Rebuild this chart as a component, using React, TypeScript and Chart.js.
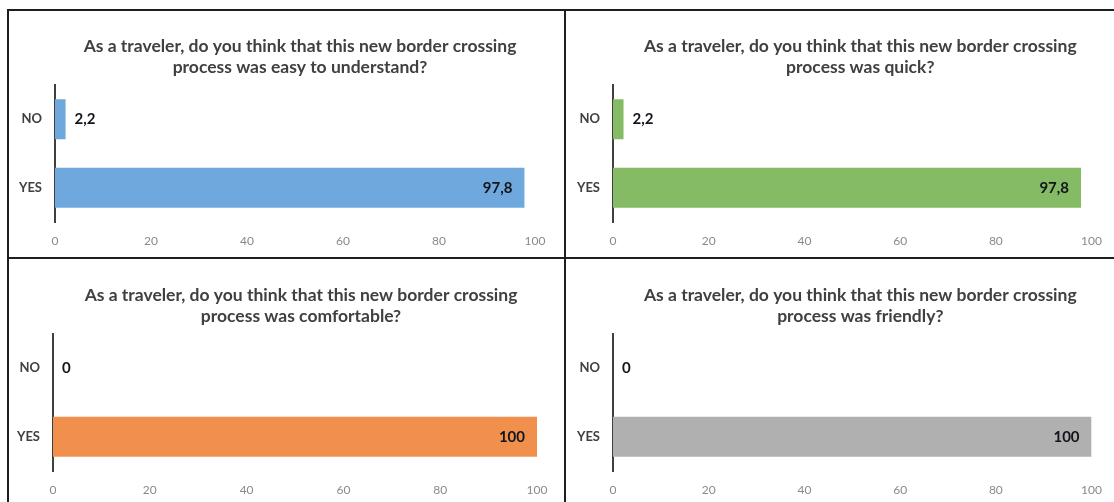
import React, { useEffect, useRef } from "react";
import { Chart, registerables } from "chart.js";

Chart.register(...registerables);

const categories = ["NO", "YES"];
const xTicks = [0, 20, 40, 60, 80, 100];

const easyTitle = ["As a traveler, do you think that this new border crossing", "process was easy to understand?"];
const quickTitle = ["As a traveler, do you think that this new border crossing", "process was quick?"];
const comfortableTitle = ["As a traveler, do you think that this new border crossing", "process was comfortable?"];
const friendlyTitle = ["As a traveler, do you think that this new border crossing", "process was friendly?"];

const easyValues = [2.2, 97.8];
const quickValues = [2.2, 97.8];
const comfortableValues = [0, 100];
const friendlyValues = [0, 100];

const FONT = "Lato, 'DejaVu Sans', sans-serif";

type PanelProps = {
  left: number;
  top: number;
  width: number;
  height: number;
  plotLeft: number;
  plotRight: number;
  titleShift: number;
  title: string[];
  values: number[];
  color: string;
};

const valueLabels = {
  id: "valueLabels",
  afterDatasetsDraw(chart: any) {
    const ctx = chart.ctx;
    const meta = chart.getDatasetMeta(0);
    const data = chart.data.datasets[0].data as number[];
    ctx.save();
    ctx.font = `bold 15px ${FONT}`;
    ctx.fillStyle = "#14141c";
    ctx.textBaseline = "middle";
    meta.data.forEach((el: any, i: number) => {
      const v = data[i];
      const txt = String(v).replace(".", ",");
      if (v > 50) {
        ctx.textAlign = "right";
        ctx.fillText(txt, el.x - 12, el.y);
      } else {
        ctx.textAlign = "left";
        ctx.fillText(txt, el.x + 9, el.y);
      }
    });
    ctx.restore();
  },
};

function Panel(p: PanelProps) {
  const ref = useRef<HTMLCanvasElement | null>(null);
  useEffect(() => {
    if (!ref.current) return;
    const xH = 30;
    const shiftTitle = {
      id: "shiftTitle",
      afterLayout(chart: any) {
        const t = chart.titleBlock;
        if (t) {
          t.left += p.titleShift;
          t.right += p.titleShift;
        }
      },
    };
    const chart = new Chart(ref.current, {
      type: "bar",
      data: {
        labels: categories,
        datasets: [
          {
            data: p.values,
            backgroundColor: p.color,
            borderWidth: 0,
            barPercentage: 0.584,
            categoryPercentage: 1,
          },
        ],
      },
      options: {
        indexAxis: "y",
        animation: false,
        responsive: false,
        maintainAspectRatio: false,
        layout: {
          padding: {
            left: 0,
            top: 0,
            right: p.width - p.plotRight,
            bottom: p.height - 213 - xH,
          },
        },
        plugins: {
          legend: { display: false },
          tooltip: { enabled: false },
          title: {
            display: true,
            fullSize: false,
            text: p.title,
            color: "#404040",
            font: { family: FONT, size: 17.5, weight: "bold", lineHeight: 1.2 },
            padding: { top: 26.5, bottom: 7.5 },
          },
        },
        scales: {
          x: {
            min: 0,
            max: 100,
            afterBuildTicks(scale: any) {
              scale.ticks = xTicks.map((v) => ({ value: v }));
            },
            afterFit(scale: any) {
              scale.height = xH;
            },
            grid: { display: false, drawTicks: false },
            border: { display: false },
            ticks: {
              color: "#8a8a8a",
              padding: 12,
              maxRotation: 0,
              font: { family: FONT, size: 12 },
            },
          },
          y: {
            afterFit(scale: any) {
              scale.width = p.plotLeft;
            },
            grid: { display: false, drawTicks: false },
            border: { display: true, color: "#404040", width: 2 },
            ticks: {
              color: "#404040",
              padding: 13,
              font: { family: FONT, size: 13, weight: "bold" },
            },
          },
        },
      },
      plugins: [valueLabels, shiftTitle],
    });
    return () => chart.destroy();
  }, []);
  return (
    <canvas
      ref={ref}
      width={p.width}
      height={p.height}
      style={{ position: "absolute", left: p.left, top: p.top, width: p.width, height: p.height }}
    />
  );
}

const line = (l: number, t: number, w: number, h: number) => (
  <div style={{ position: "absolute", left: l, top: t, width: w, height: h, background: "#1e1e1e" }} />
);

export default function App() {
  return (
    <div style={{ position: "fixed", left: 0, top: 0, width: 1114, height: 502, background: "#fff", overflow: "hidden" }}>
      <Panel left={7} top={9} width={558} height={249} plotLeft={48} plotRight={528} titleShift={5} title={easyTitle} values={easyValues} color="#6fa8dc" />
      <Panel left={565} top={9} width={549} height={249} plotLeft={48} plotRight={530} titleShift={8} title={quickTitle} values={quickValues} color="#84bb64" />
      <Panel left={7} top={258} width={558} height={244} plotLeft={46} plotRight={530} titleShift={6} title={comfortableTitle} values={comfortableValues} color="#f0904c" />
      <Panel left={565} top={258} width={549} height={244} plotLeft={48} plotRight={530} titleShift={8} title={friendlyTitle} values={friendlyValues} color="#b0b0b0" />
      {line(7, 9, 1107, 2)}
      {line(7, 9, 2, 493)}
      {line(564, 9, 2, 493)}
      {line(7, 257, 1107, 2)}
    </div>
  );
}
